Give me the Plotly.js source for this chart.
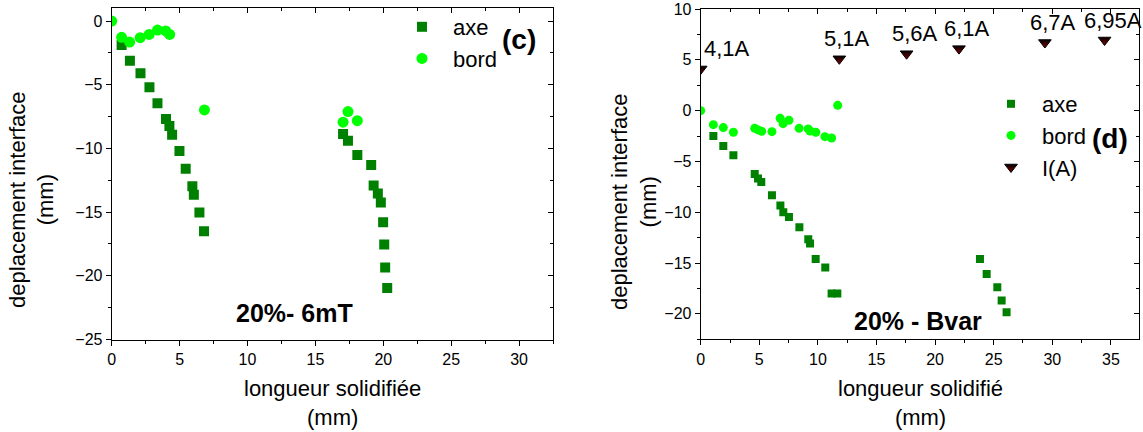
<!DOCTYPE html>
<html>
<head>
<meta charset="utf-8">
<script src="https://cdn.plot.ly/plotly-3.0.1.min.js"></script>
<style>html,body{margin:0;padding:0;background:#fff;}#chart{width:1143px;height:432px;}</style>
</head>
<body>
<div id="chart"></div>
<script>
// ---- Data: panel (c) 20%- 6mT ----
const axeC_x = [0.73,1.34,2.12,2.78,3.37,4.0,4.25,4.45,4.99,5.45,5.94,6.05,6.46,6.8,17.04,17.4,18.09,19.11,19.29,19.6,19.82,19.99,20.07,20.14,20.29];
const axeC_y = [-1.88,-3.11,-4.1,-5.2,-6.45,-7.7,-8.24,-8.93,-10.2,-11.6,-12.97,-13.64,-15.04,-16.5,-8.86,-9.39,-10.51,-11.3,-12.92,-13.54,-14.25,-15.79,-17.54,-19.34,-20.96];
const bordC_x = [0,0.73,1.32,2.1,2.76,3.37,3.98,4.27,6.83,17.04,17.4,18.09];
const bordC_y = [0,-1.28,-1.65,-1.31,-1.05,-0.71,-0.78,-1.05,-6.98,-7.94,-7.11,-7.82];

// ---- Data: panel (d) 20% - Bvar ----
const axeD_x = [1.08,1.93,2.79,4.61,4.89,5.17,6.08,6.8,7.05,7.53,8.42,9.18,9.33,9.81,10.63,11.17,11.66,23.83,24.4,25.31,25.68,26.1];
const axeD_y = [-2.49,-3.48,-4.39,-6.23,-6.69,-7.02,-8.33,-9.34,-10.0,-10.46,-11.48,-12.66,-13.08,-14.59,-15.44,-18.0,-18.0,-14.59,-16.07,-17.38,-18.69,-19.84];
const bordD_x = [0,1.08,1.93,2.79,4.61,4.89,5.2,6.08,6.78,7.03,7.53,8.4,9.17,9.33,9.82,10.6,11.17,11.69];
const bordD_y = [0,-1.38,-1.67,-2.13,-1.74,-1.9,-2.03,-2.07,-0.75,-1.28,-0.95,-1.74,-1.8,-2.0,-2.13,-2.56,-2.69,0.52];
const I_x = [0,11.83,17.57,22.04,29.37,34.46];
const I_y = [4.1,5.1,5.6,6.1,6.7,6.95];
const I_labels = ['4,1A','5,1A','5,6A','6,1A','6,7A','6,95A'];

// ---- Text ----
const seriesNames = ['axe','bord','I(A)'];
const xTitleC = 'longueur solidifiée<br>(mm)';
const xTitleD = 'longueur solidifié<br>(mm)';
const yTitle = 'deplacement interface<br>(mm)';
const panelC = '(c)', panelD = '(d)';
const condC = '20%- 6mT', condD = '20% - Bvar';

const FONT = 'Arial, "Liberation Sans", Helvetica, sans-serif';
const GREEN_DARK = '#008000', GREEN_LIGHT = '#00ff00';

const traces = [
  {x: axeC_x, y: axeC_y, name: seriesNames[0], mode: 'markers', type: 'scatter', xaxis: 'x', yaxis: 'y', legend: 'legend',
   marker: {symbol: 'square', size: 10, color: GREEN_DARK}},
  {x: bordC_x, y: bordC_y, name: seriesNames[1], mode: 'markers', type: 'scatter', xaxis: 'x', yaxis: 'y', legend: 'legend',
   marker: {symbol: 'circle', size: 11, color: GREEN_LIGHT}},
  {x: axeD_x, y: axeD_y, name: seriesNames[0], mode: 'markers', type: 'scatter', xaxis: 'x2', yaxis: 'y2', legend: 'legend2',
   marker: {symbol: 'square', size: 8, color: GREEN_DARK}},
  {x: bordD_x, y: bordD_y, name: seriesNames[1], mode: 'markers', type: 'scatter', xaxis: 'x2', yaxis: 'y2', legend: 'legend2',
   marker: {symbol: 'circle', size: 9, color: GREEN_LIGHT}},
  {x: I_x, y: I_y, name: seriesNames[2], mode: 'markers', type: 'scatter', xaxis: 'x2', yaxis: 'y2', legend: 'legend2',
   marker: {symbol: 'triangle-down', size: 11, color: '#000000', gradient: {type: 'vertical', color: '#8b0000'}, line: {color: '#000', width: 1}}},
  // empty traces so the mirrored frame axes (top / right) get drawn
  {x: [], y: [], xaxis: 'x3', yaxis: 'y3', mode: 'markers', showlegend: false, hoverinfo: 'skip', type: 'scatter'},
  {x: [], y: [], xaxis: 'x4', yaxis: 'y4', mode: 'markers', showlegend: false, hoverinfo: 'skip', type: 'scatter'}
];

const W = 1143, H = 432;
const px = v => v / W;
const py = v => 1 - v / H;

function baseAxis(extra) {
  return Object.assign({
    showgrid: false, zeroline: false, showline: true, linecolor: '#000', linewidth: 1,
    ticks: 'outside', ticklen: 5, tickwidth: 1, tickcolor: '#000', dtick: 5, tick0: 0,
    tickfont: {family: FONT, size: 16, color: '#000'},
    minor: {dtick: 2.5, ticks: 'outside', ticklen: 3, tickcolor: '#000', tickwidth: 1, showgrid: false},
    fixedrange: true
  }, extra);
}
function mirrorAxis(extra) {
  return Object.assign({
    showgrid: false, zeroline: false, showline: true, linecolor: '#000', linewidth: 1,
    ticks: 'inside', ticklen: 5, tickwidth: 1, tickcolor: '#000', dtick: 5, tick0: 0,
    showticklabels: false,
    minor: {dtick: 2.5, ticks: 'inside', ticklen: 3, tickcolor: '#000', tickwidth: 1, showgrid: false},
    fixedrange: true
  }, extra);
}

const xRangeC = [0, 32.5], yRangeC = [-25, 1];
const xRangeD = [0, 37.4], yRangeD = [-22.5, 10];

const annotations = [
  {text: panelC, x: px(519), y: py(40), font: {family: FONT, size: 28, color: '#000', weight: 'bold'}},
  {text: panelD, x: px(1109.5), y: py(138), font: {family: FONT, size: 28, color: '#000', weight: 'bold'}},
  {text: condC, x: px(294), y: py(313), font: {family: FONT, size: 25, color: '#000', weight: 'bold'}},
  {text: condD, x: px(918), y: py(321), font: {family: FONT, size: 25, color: '#000', weight: 'bold'}},
  {text: xTitleC, x: px(332.4), y: py(402.7), font: {family: FONT, size: 22, color: '#000'}},
  {text: xTitleD, x: px(920), y: py(402.7), font: {family: FONT, size: 22, color: '#000'}},
  {text: yTitle, x: px(31.9), y: py(200), textangle: -90, font: {family: FONT, size: 22, color: '#000'}},
  {text: yTitle, x: px(634), y: py(202), textangle: -90, font: {family: FONT, size: 22, color: '#000'}}
].map(a => Object.assign({xref: 'paper', yref: 'paper', showarrow: false, xanchor: 'center', yanchor: 'middle', align: 'center'}, a));

I_labels.forEach((t, i) => {
  annotations.push({
    text: t, x: I_x[i], y: I_y[i], xref: 'x2', yref: 'y2', showarrow: false,
    xanchor: I_x[i] === 0 ? 'left' : 'center', yanchor: 'middle',
    xshift: I_x[i] === 0 ? 1 : 8, yshift: 20,
    font: {family: FONT, size: 22, color: '#000'}
  });
});

const layout = {
  width: W, height: H,
  margin: {l: 0, r: 0, t: 0, b: 0, pad: 0},
  paper_bgcolor: '#fff', plot_bgcolor: '#fff',
  font: {family: FONT, color: '#000'},
  showlegend: true,
  xaxis: baseAxis({domain: [px(111.7), px(553)], range: xRangeC, anchor: 'y'}),
  yaxis: baseAxis({domain: [py(339.5), py(8.3)], range: yRangeC, anchor: 'x'}),
  xaxis3: mirrorAxis({overlaying: 'x', anchor: 'y', side: 'top', range: xRangeC}),
  yaxis3: mirrorAxis({overlaying: 'y', anchor: 'x', side: 'right', range: yRangeC}),
  xaxis2: baseAxis({domain: [px(700.7), px(1139)], range: xRangeD, anchor: 'y2'}),
  yaxis2: baseAxis({domain: [py(339.3), py(9)], range: yRangeD, anchor: 'x2'}),
  xaxis4: mirrorAxis({overlaying: 'x2', anchor: 'y2', side: 'top', range: xRangeD}),
  yaxis4: mirrorAxis({overlaying: 'y2', anchor: 'x2', side: 'right', range: yRangeD}),
  legend: {x: px(391), y: py(6), xanchor: 'left', yanchor: 'top', bgcolor: 'rgba(0,0,0,0)',
           font: {family: FONT, size: 22, color: '#000'}, itemwidth: 52, tracegroupgap: 0},
  legend2: {x: px(980), y: py(83), xanchor: 'left', yanchor: 'top', bgcolor: 'rgba(0,0,0,0)',
            font: {family: FONT, size: 22, color: '#000'}, itemwidth: 52, tracegroupgap: 0},
  annotations: annotations
};

Plotly.newPlot('chart', traces, layout, {displayModeBar: false, staticPlot: true});
</script>
</body>
</html>
